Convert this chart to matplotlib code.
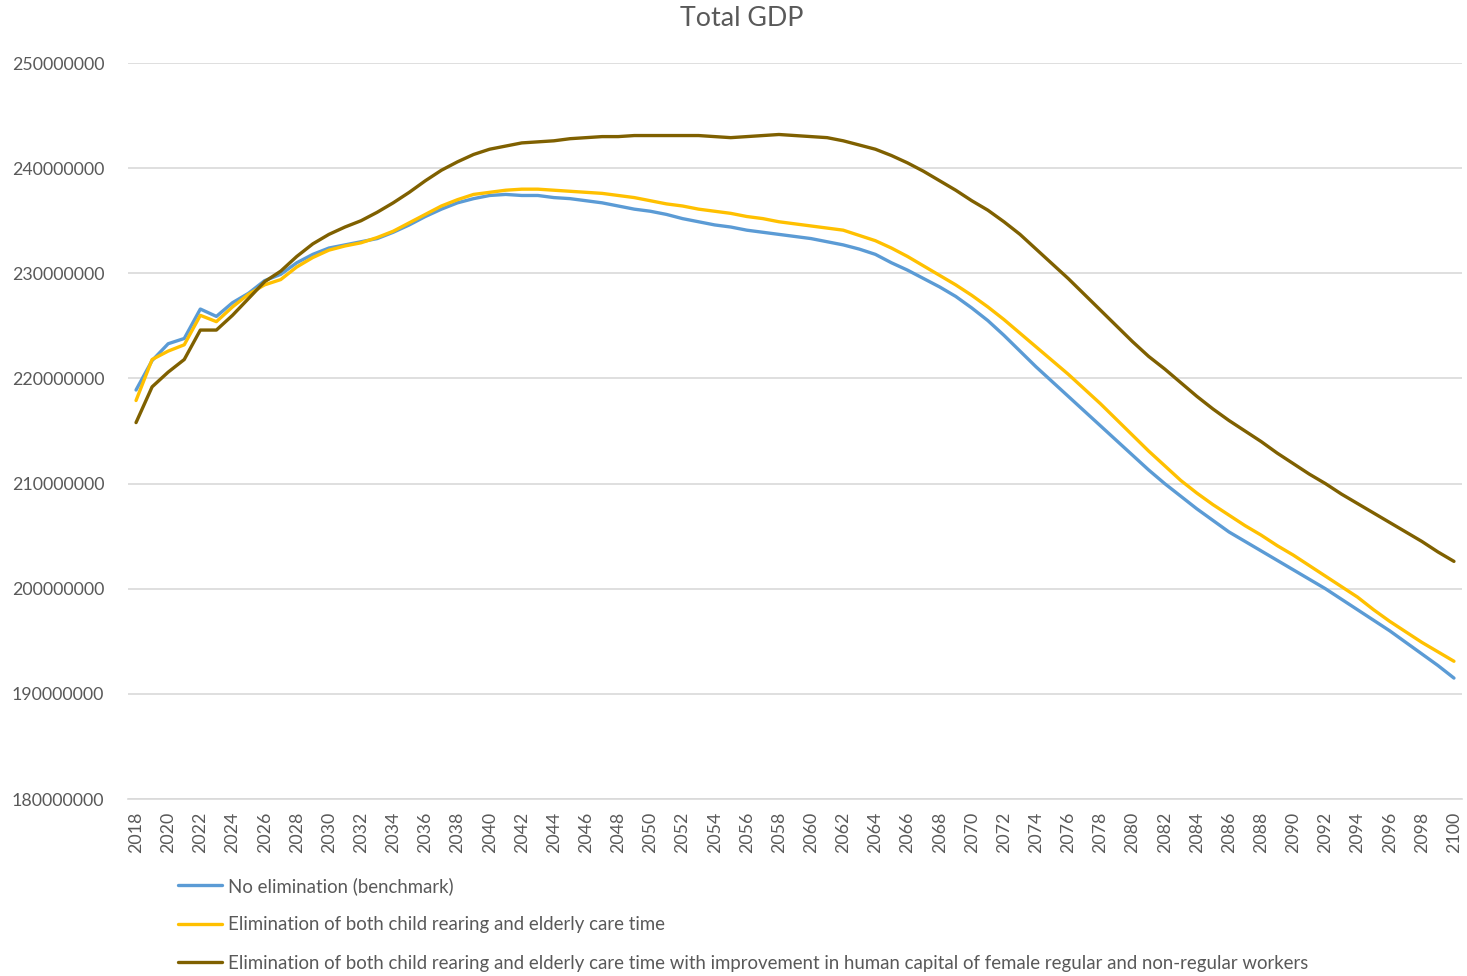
import numpy as np
import matplotlib
matplotlib.use('Agg')
import matplotlib.pyplot as plt

years = list(range(2018, 2101))

# total GDP, millions
no_elim = [
    218.9, 221.7, 223.3, 223.8, 226.6, 225.9, 227.2, 228.1, 229.3, 229.9,
    231.0, 231.8, 232.4, 232.7, 233.0, 233.3, 233.9, 234.6, 235.4, 236.1,
    236.7, 237.1, 237.4, 237.5, 237.4, 237.4, 237.2, 237.1, 236.9, 236.7,
    236.4, 236.1, 235.9, 235.6, 235.2, 234.9, 234.6, 234.4, 234.1, 233.9,
    233.7, 233.5, 233.3, 233.0, 232.7, 232.3, 231.8, 231.0, 230.3, 229.5,
    228.7, 227.8, 226.7, 225.5, 224.1, 222.6, 221.1, 219.7, 218.3, 216.9,
    215.5, 214.1, 212.7, 211.3, 210.0, 208.8, 207.6, 206.5, 205.4, 204.5,
    203.6, 202.7, 201.8, 200.9, 200.0, 199.0, 198.0, 197.0, 196.0, 194.9,
    193.8, 192.7, 191.5,
]
elim_care = [
    217.9, 221.8, 222.6, 223.2, 226.0, 225.4, 226.8, 228.0, 228.9, 229.4,
    230.6, 231.5, 232.2, 232.6, 232.9, 233.4, 234.0, 234.8, 235.6, 236.4,
    237.0, 237.5, 237.7, 237.9, 238.0, 238.0, 237.9, 237.8, 237.7, 237.6,
    237.4, 237.2, 236.9, 236.6, 236.4, 236.1, 235.9, 235.7, 235.4, 235.2,
    234.9, 234.7, 234.5, 234.3, 234.1, 233.6, 233.1, 232.4, 231.6, 230.7,
    229.8, 228.9, 227.9, 226.8, 225.6, 224.3, 223.0, 221.7, 220.4, 219.0,
    217.6, 216.1, 214.6, 213.1, 211.7, 210.3, 209.1, 208.0, 207.0, 206.0,
    205.1, 204.1, 203.2, 202.2, 201.2, 200.2, 199.2, 198.0, 196.9, 195.9,
    194.9, 194.0, 193.1,
]
elim_care_hc = [
    215.8, 219.2, 220.6, 221.8, 224.6, 224.6, 226.0, 227.6, 229.2, 230.2,
    231.6, 232.8, 233.7, 234.4, 235.0, 235.8, 236.7, 237.7, 238.8, 239.8,
    240.6, 241.3, 241.8, 242.1, 242.4, 242.5, 242.6, 242.8, 242.9, 243.0,
    243.0, 243.1, 243.1, 243.1, 243.1, 243.1, 243.0, 242.9, 243.0, 243.1,
    243.2, 243.1, 243.0, 242.9, 242.6, 242.2, 241.8, 241.2, 240.5, 239.7,
    238.8, 237.9, 236.9, 236.0, 234.9, 233.7, 232.3, 230.9, 229.5, 228.0,
    226.5, 225.0, 223.5, 222.1, 220.9, 219.6, 218.3, 217.1, 216.0, 215.0,
    214.0, 212.9, 211.9, 210.9, 210.0, 209.0, 208.1, 207.2, 206.3, 205.4,
    204.5, 203.5, 202.6,
]

labels = [
    'No elimination (benchmark)',
    'Elimination of both child rearing and elderly care time',
    'Elimination of both child rearing and elderly care time with improvement '
    'in human capital of female regular and non-regular workers',
]
colors = ['#5B9BD5', '#FFC000', '#7F6000']

plt.rcParams['font.family'] = ['Lato', 'DejaVu Sans']
grey = '#595959'

fig = plt.figure(figsize=(14.67, 9.76), dpi=100)
ax = fig.add_axes([128 / 1467, 1 - 799 / 976, 1334 / 1467, 736 / 976])

x = np.array(years)
for vals, lab, c in zip([no_elim, elim_care, elim_care_hc], labels, colors):
    ax.plot(x, np.array(vals) * 1e6, color=c, lw=2.4, label=lab,
            solid_capstyle='round', solid_joinstyle='round')

ax.set_xlim(2017.5, 2100.5)
ax.set_ylim(180e6, 250e6)
ax.set_yticks(np.arange(180e6, 250e6 + 1, 10e6))
ax.set_yticklabels([f'{int(v)}' for v in np.arange(180e6, 250e6 + 1, 10e6)])
ax.set_xticks(years[::2])
ax.set_xticklabels([str(y) for y in years[::2]], rotation=90)

ax.grid(axis='y', color='#D9D9D9', lw=1.2)
ax.set_axisbelow(True)
for s in ['top', 'right', 'left']:
    ax.spines[s].set_visible(False)
ax.spines['bottom'].set_color('#D9D9D9')
ax.spines['bottom'].set_linewidth(1.2)
ax.tick_params(axis='y', length=0, pad=17, labelsize=12.8, labelcolor=grey)
ax.tick_params(axis='x', length=0, pad=9, labelsize=12.8, labelcolor=grey)

fig.text(742 / 1467, 1 - 18 / 976, 'Total GDP', ha='center', va='center',
         fontsize=19.3, color=grey)

fig.legend(loc='upper left', bbox_to_anchor=(178 / 1467, 1 - 877 / 976),
           frameon=False, borderpad=0, borderaxespad=0, handlelength=2.35,
           handletextpad=0.33, labelspacing=1.15, fontsize=13.4,
           labelcolor=grey)

plt.savefig('out.png', dpi=100)
